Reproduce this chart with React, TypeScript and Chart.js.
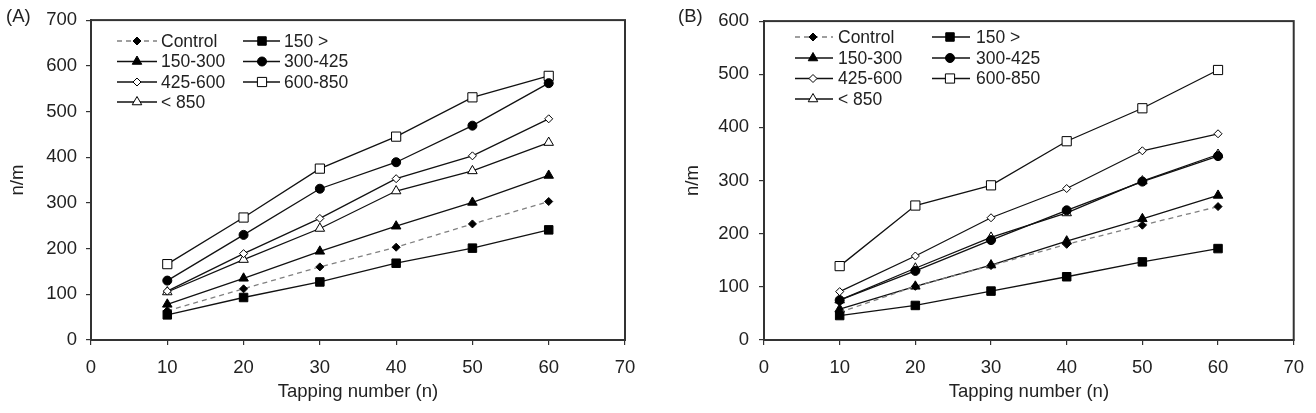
import React, { useEffect, useRef } from 'react';
import { Chart, registerables } from 'chart.js';

Chart.register(...registerables);

// ---------- DATA ----------
const tappingNumbers = [10, 20, 30, 40, 50, 60];
const seriesNames = ['Control', '150 >', '150-300', '300-425', '425-600', '600-850', '< 850'];

const aControl = [64, 112, 160, 203, 254, 303];
const aBelow150 = [55, 93, 127, 168, 201, 241];
const a150to300 = [78, 135, 194, 249, 301, 360];
const a300to425 = [130, 230, 331, 389, 469, 562];
const a425to600 = [107, 189, 266, 353, 403, 484];
const a600to850 = [166, 268, 375, 445, 531, 578];
const aOver850 = [105, 176, 244, 326, 370, 432];

const bControl = [52, 101, 140, 180, 216, 251];
const bBelow150 = [46, 65, 92, 119, 147, 172];
const b150to300 = [58, 101, 141, 186, 228, 272];
const b300to425 = [75, 130, 188, 244, 298, 346];
const b425to600 = [91, 158, 230, 285, 356, 388];
const b600to850 = [139, 253, 291, 374, 436, 508];
const bOver850 = [75, 135, 193, 239, 299, 349];

const xTicks = [0, 10, 20, 30, 40, 50, 60, 70];
const aYTicksMax = 700;
const bYTicksMax = 600;
const xTitle = 'Tapping number (n)';
const yTitle = 'n/m';

// ---------- STYLES ----------
const FONT = '"Liberation Sans", Arial, sans-serif';
const AXIS_FONT_SIZE = 18.5;
const LEGEND_FONT_SIZE = 17.5;
const TEXT = '#222';
const AXIS = '#333';

type Sty = { shape: string; r: number; fill: string; line: string; dash: number[] };
const seriesStyles: Sty[] = [
  { shape: 'rectRot', r: 4, fill: '#000', line: '#808080', dash: [5, 4] },
  { shape: 'rect', r: 6, fill: '#000', line: '#111', dash: [] },
  { shape: 'triangle', r: 5.5, fill: '#000', line: '#111', dash: [] },
  { shape: 'circle', r: 4.5, fill: '#000', line: '#111', dash: [] },
  { shape: 'rectRot', r: 4, fill: '#fff', line: '#111', dash: [] },
  { shape: 'rect', r: 6.5, fill: '#fff', line: '#111', dash: [] },
  { shape: 'triangle', r: 5.5, fill: '#fff', line: '#111', dash: [] },
];

function drawMarker(ctx: CanvasRenderingContext2D, s: Sty, x: number, y: number) {
  const r = s.r;
  ctx.beginPath();
  if (s.shape === 'circle') {
    ctx.arc(x, y, r, 0, Math.PI * 2);
  } else if (s.shape === 'rect') {
    const h = r * Math.SQRT1_2;
    ctx.rect(x - h, y - h, 2 * h, 2 * h);
  } else if (s.shape === 'rectRot') {
    ctx.moveTo(x, y - r);
    ctx.lineTo(x + r, y);
    ctx.lineTo(x, y + r);
    ctx.lineTo(x - r, y);
    ctx.closePath();
  } else if (s.shape === 'triangle') {
    for (let k = 0; k < 3; k++) {
      const a = (k * 2 * Math.PI) / 3;
      const px = x + Math.sin(a) * r;
      const py = y - Math.cos(a) * r;
      if (k === 0) ctx.moveTo(px, py);
      else ctx.lineTo(px, py);
    }
    ctx.closePath();
  }
  ctx.fillStyle = s.fill;
  ctx.fill();
  ctx.setLineDash([]);
  ctx.lineWidth = 1;
  ctx.strokeStyle = '#000';
  ctx.stroke();
}

type PanelLayout = {
  letter: string;
  letterX: number;
  left: number;
  width: number;
  plotLeft: number;
  plotRight: number;
  yTitlePad: number;
  yTickPad: number;
  legendCols: { lineStart: number; lineEnd: number; marker: number; text: number }[];
  legendRows: number[];
};

const layoutA: PanelLayout = {
  letter: '(A)',
  letterX: 6,
  left: 0,
  width: 658,
  plotLeft: 91,
  plotRight: 625,
  yTitlePad: 7,
  yTickPad: 9,
  legendCols: [
    { lineStart: 117, lineEnd: 157, marker: 137, text: 161 },
    { lineStart: 243, lineEnd: 280, marker: 262, text: 284 },
  ],
  legendRows: [41, 61.5, 82, 102],
};

const layoutB: PanelLayout = {
  letter: '(B)',
  letterX: 20,
  left: 658,
  width: 658,
  plotLeft: 106,
  plotRight: 639,
  yTitlePad: 24,
  yTickPad: 10,
  legendCols: [
    { lineStart: 137, lineEnd: 175, marker: 155, text: 180 },
    { lineStart: 274, lineEnd: 312, marker: 292, text: 318 },
  ],
  legendRows: [37, 58, 78.5, 99],
};

function Panel({ series, yMax, lay }: { series: number[][]; yMax: number; lay: PanelLayout }) {
  const ref = useRef<HTMLCanvasElement>(null);
  useEffect(() => {
    const H = 413;
    const extras = {
      id: 'extras',
      afterDatasetsDraw(chart: any) {
        const ctx: CanvasRenderingContext2D = chart.ctx;
        const a = chart.chartArea;
        ctx.save();
        // frame
        ctx.setLineDash([]);
        ctx.strokeStyle = AXIS;
        ctx.lineWidth = 2;
        ctx.strokeRect(a.left, a.top, a.right - a.left, a.bottom - a.top);
        // legend
        ctx.font = `${LEGEND_FONT_SIZE}px ${FONT}`;
        ctx.textBaseline = 'middle';
        ctx.textAlign = 'left';
        seriesNames.forEach((name, i) => {
          const col = lay.legendCols[i % 2];
          const y = lay.legendRows[Math.floor(i / 2)];
          const s = seriesStyles[i];
          ctx.beginPath();
          ctx.setLineDash(s.dash);
          ctx.strokeStyle = s.line;
          ctx.lineWidth = 1.3;
          ctx.moveTo(col.lineStart, y);
          ctx.lineTo(col.lineEnd, y);
          ctx.stroke();
          drawMarker(ctx, s, col.marker, y);
          ctx.fillStyle = TEXT;
          ctx.fillText(name, col.text, y + 1);
        });
        // panel letter
        ctx.font = `${AXIS_FONT_SIZE}px ${FONT}`;
        ctx.fillText(lay.letter, lay.letterX, 17);
        ctx.restore();
      },
    };
    const axisFont = { family: FONT, size: AXIS_FONT_SIZE };
    const chart = new Chart(ref.current as HTMLCanvasElement, {
      type: 'line',
      data: {
        datasets: series.map((vals, i) => ({
          label: seriesNames[i],
          data: tappingNumbers.map((x, j) => ({ x, y: vals[j] })),
          borderColor: seriesStyles[i].line,
          borderWidth: 1.3,
          borderDash: seriesStyles[i].dash,
          pointStyle: seriesStyles[i].shape as any,
          pointRadius: seriesStyles[i].r,
          pointHoverRadius: seriesStyles[i].r,
          pointBackgroundColor: seriesStyles[i].fill,
          pointBorderColor: '#000',
          pointBorderWidth: 1,
          tension: 0,
          fill: false,
        })),
      },
      options: {
        responsive: false,
        animation: false,
        events: [],
        layout: { padding: { left: 0, right: lay.width - lay.plotRight, top: 14, bottom: 0 } },
        plugins: { legend: { display: false }, tooltip: { enabled: false } },
        scales: {
          x: {
            type: 'linear',
            min: xTicks[0],
            max: xTicks[xTicks.length - 1],
            afterBuildTicks: (s: any) => {
              s.ticks = xTicks.map((v) => ({ value: v }));
            },
            ticks: { color: TEXT, font: axisFont, padding: 12 },
            grid: { drawOnChartArea: false, tickLength: 5, color: AXIS, lineWidth: 1.2 },
            border: { color: AXIS, width: 2 },
            title: {
              display: true,
              text: xTitle,
              color: TEXT,
              font: axisFont,
              padding: { top: 0, bottom: 10 },
            },
            afterFit: (s: any) => {
              s.height = H - 340;
            },
          },
          y: {
            type: 'linear',
            min: 0,
            max: yMax,
            ticks: { stepSize: 100, color: TEXT, font: axisFont, padding: lay.yTickPad },
            grid: { drawOnChartArea: false, tickLength: 5, color: AXIS, lineWidth: 1.2 },
            border: { color: AXIS, width: 2 },
            title: {
              display: true,
              text: yTitle,
              color: TEXT,
              font: axisFont,
              padding: { top: lay.yTitlePad, bottom: 0 },
            },
            afterFit: (s: any) => {
              s.width = lay.plotLeft;
            },
          },
        },
      },
      plugins: [extras],
    } as any);
    return () => chart.destroy();
  }, []);
  return (
    <canvas
      ref={ref}
      width={lay.width}
      height={413}
      style={{ position: 'absolute', left: lay.left, top: 0, width: lay.width, height: 413 }}
    />
  );
}

export default function App() {
  const seriesA = [aControl, aBelow150, a150to300, a300to425, a425to600, a600to850, aOver850];
  const seriesB = [bControl, bBelow150, b150to300, b300to425, b425to600, b600to850, bOver850];
  return (
    <div style={{ position: 'fixed', left: 0, top: 0, width: 1316, height: 413, background: '#fff' }}>
      <Panel series={seriesA} yMax={aYTicksMax} lay={layoutA} />
      <Panel series={seriesB} yMax={bYTicksMax} lay={layoutB} />
    </div>
  );
}
